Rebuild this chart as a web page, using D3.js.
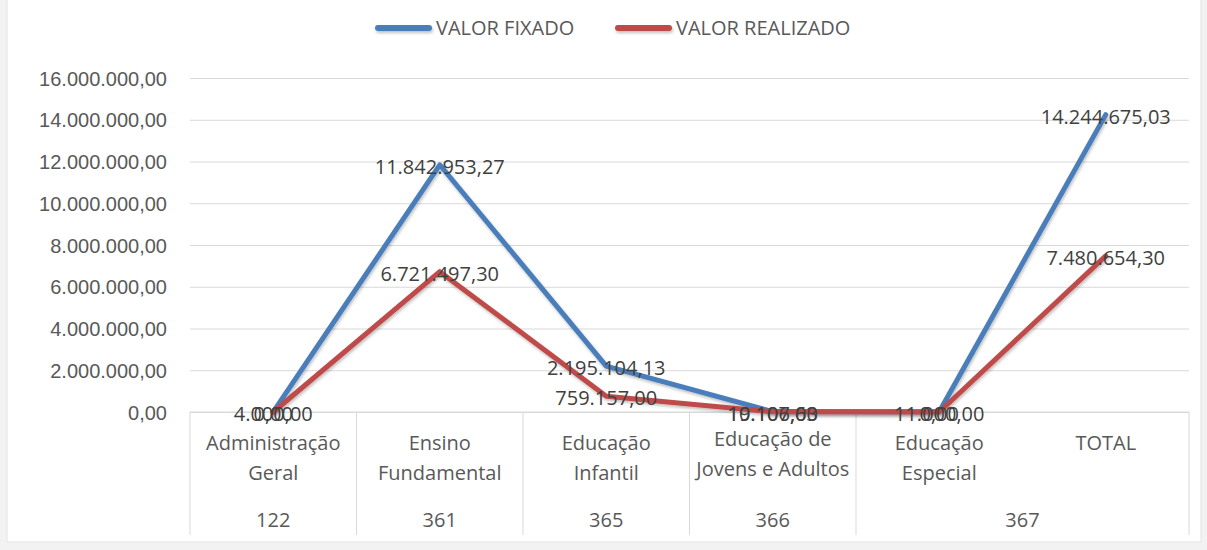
<!DOCTYPE html>
<html>
<head>
<meta charset="utf-8">
<script src="https://cdn.jsdelivr.net/npm/d3@7"></script>
<style>
    body { margin: 0; background: #f2f2f2; }
    svg { display: block; font-family: "Open Sans", sans-serif; }
    .y-axis text, .cat text, .grp text { fill: #595959; font-size: 20px; }
    .label { fill: #404040; font-size: 20px; }
    .legend text { fill: #595959; font-size: 20px; }
</style>
</head>
<body>
<svg width="1207" height="550"></svg>
<script>
// Data
const categories = ["Administração Geral", "Ensino Fundamental", "Educação Infantil",
                    "Educação de Jovens e Adultos", "Educação Especial", "TOTAL"]
const categoryLines = [["Administração", "Geral"], ["Ensino", "Fundamental"], ["Educação", "Infantil"],
                       ["Educação de", "Jovens e Adultos"], ["Educação", "Especial"], ["TOTAL"]]
const groupCodes = ["122", "361", "365", "366", "367"]
const groupSpans = [[0, 0], [1, 1], [2, 2], [3, 3], [4, 5]]
const valorFixado = [4000.00, 11842953.27, 2195104.13, 19106.00, 11000.00, 14244675.03]
const valorRealizado = [0.00, 6721497.30, 759157.00, 10107.63, 0.00, 7480654.30]
const yTicks = [0, 2e6, 4e6, 6e6, 8e6, 10e6, 12e6, 14e6, 16e6]

const series = [
    { name: "VALOR FIXADO", values: valorFixado, color: "#4a7ebb" },
    { name: "VALOR REALIZADO", values: valorRealizado, color: "#be4b48" }
]

const config = {
    margin: { left: 190, right: 18, top: 78, bottom: 138 },
    width: 1207, height: 550
}
const fig_width = config.width - config.margin.left - config.margin.right
const fig_height = config.height - config.margin.top - config.margin.bottom

const ptBR = d3.formatLocale({ decimal: ",", thousands: ".", grouping: [3], currency: ["R$", ""] })
const fmt = ptBR.format(",.2f")

const svg = d3.select("svg")

// chart frame
svg.append("rect")
    .attr("x", 7).attr("y", -1)
    .attr("width", 1194).attr("height", 543)
    .attr("fill", "#fff")
    .attr("stroke", "#e3e3e3")

const defs = svg.append("defs")
defs.append("filter")
    .attr("id", "shadow")
    .attr("filterUnits", "userSpaceOnUse")
    .attr("x", -50).attr("y", -50).attr("width", 1300).attr("height", 650)
    .append("feDropShadow")
    .attr("dx", 1).attr("dy", 2).attr("stdDeviation", 1.5)
    .attr("flood-color", "#000").attr("flood-opacity", 0.25)

const fig = svg.append("g")
    .attr("transform", "translate(" + config.margin.left + "," + config.margin.top + ")")

const x = d3.scaleBand()
    .domain(d3.range(categories.length))
    .range([0, fig_width])

const y = d3.scaleLinear()
    .domain([0, 16e6])
    .range([fig_height, 0])

// gridlines
fig.append("g")
    .attr("class", "grid")
    .call(d3.axisLeft(y).tickValues(yTicks).tickSize(-fig_width).tickFormat(""))
    .call(g => g.select(".domain").remove())
    .call(g => g.selectAll("line").attr("stroke", "#d9d9d9"))

// y axis
fig.append("g")
    .attr("class", "y-axis")
    .call(d3.axisLeft(y).tickValues(yTicks).tickSize(0).tickPadding(23).tickFormat(fmt))
    .call(g => g.select(".domain").remove())
    .call(g => g.selectAll("text").attr("dy", "0.35em"))

// category axis (two levels)
const cat = fig.append("g")
    .attr("class", "cat")
    .attr("transform", "translate(0," + fig_height + ")")

cat.append("line")
    .attr("x1", 0).attr("x2", fig_width)
    .attr("stroke", "#d9d9d9")

const boundaries = [0].concat(groupSpans.map(s => x(s[1]) + x.bandwidth()))
cat.selectAll(".sep")
    .data(boundaries)
    .join("line")
    .attr("class", "sep")
    .attr("x1", d => d).attr("x2", d => d)
    .attr("y1", 0).attr("y2", 123)
    .attr("stroke", "#d9d9d9")

cat.selectAll(".cat-label")
    .data(categoryLines)
    .join("text")
    .attr("class", "cat-label")
    .attr("text-anchor", "middle")
    .attr("transform", (d, i) => "translate(" + (x(i) + x.bandwidth() / 2) + "," + (i == 3 ? 34 : 38) + ")")
    .selectAll("tspan")
    .data(d => d)
    .join("tspan")
    .attr("x", 0)
    .attr("dy", (d, i) => i == 0 ? 0 : 30)
    .text(d => d)

fig.append("g")
    .attr("class", "grp")
    .attr("transform", "translate(0," + fig_height + ")")
    .selectAll("text")
    .data(groupCodes)
    .join("text")
    .attr("text-anchor", "middle")
    .attr("x", (d, i) => (x(groupSpans[i][0]) + x(groupSpans[i][1]) + x.bandwidth()) / 2)
    .attr("y", 115)
    .text(d => d)

// lines
const line = d3.line()
    .x((d, i) => x(i) + x.bandwidth() / 2)
    .y(d => y(d))

fig.append("g")
    .attr("class", "lines")
    .selectAll("path")
    .data(series)
    .join("path")
    .attr("d", d => line(d.values))
    .attr("fill", "none")
    .attr("stroke", d => d.color)
    .attr("stroke-width", 5)
    .attr("stroke-linejoin", "round")
    .attr("stroke-linecap", "round")
    .attr("filter", "url(#shadow)")

// data labels (they overlap near zero, as in the original)
fig.append("g")
    .selectAll("g")
    .data(series)
    .join("g")
    .selectAll("text")
    .data(d => d.values)
    .join("text")
    .attr("class", "label")
    .attr("text-anchor", "middle")
    .attr("x", (d, i) => x(i) + x.bandwidth() / 2)
    .attr("y", d => y(d) + 2)
    .attr("dy", "0.35em")
    .text(d => fmt(d))

// legend
const legendX = [375, 615]
const legend = svg.append("g")
    .attr("class", "legend")
    .selectAll("g")
    .data(series)
    .join("g")
    .attr("transform", (d, i) => "translate(" + legendX[i] + ",28)")

legend.append("rect")
    .attr("x", 0).attr("y", -3)
    .attr("width", 57).attr("height", 6)
    .attr("rx", 3)
    .attr("fill", d => d.color)
    .attr("filter", "url(#shadow)")

legend.append("text")
    .attr("x", 61)
    .attr("dy", "0.35em")
    .text(d => d.name)
</script>
</body>
</html>
